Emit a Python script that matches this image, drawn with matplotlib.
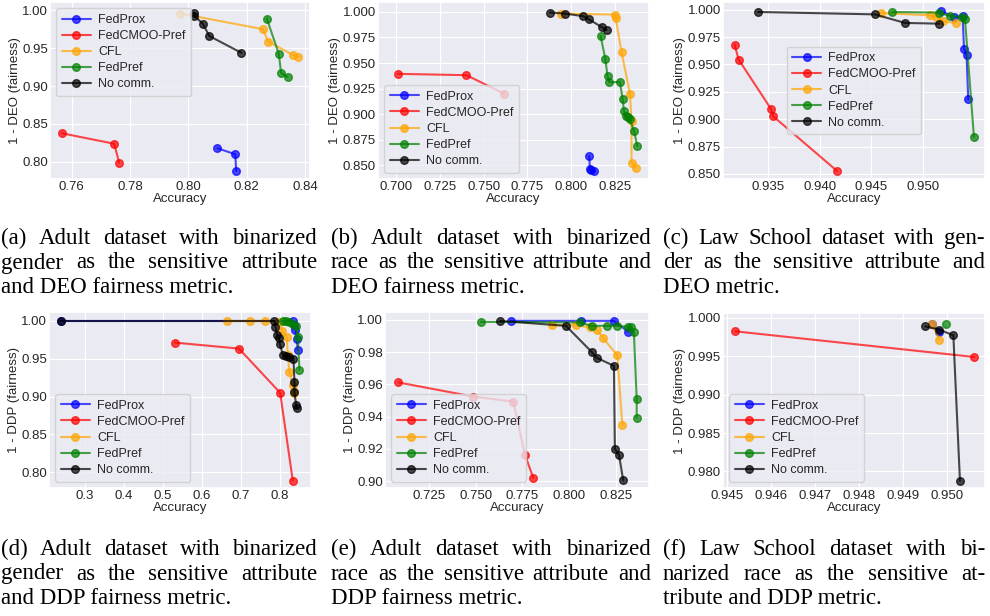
import matplotlib
matplotlib.use("Agg")
import matplotlib.pyplot as plt
import seaborn as sns

sns.set_theme(style="darkgrid")
plt.rcParams["font.family"] = ["Liberation Sans", "DejaVu Sans"]

methods = ["FedProx", "FedCMOO-Pref", "CFL", "FedPref", "No comm."]
colors = ["blue", "red", "orange", "green", "black"]

# (a) Adult, gender, DEO
a_fedprox = ([0.810, 0.8161, 0.8164], [0.818, 0.810, 0.788])
a_cmoo = ([0.7566, 0.7746, 0.7763], [0.8378, 0.8239, 0.799])
a_cfl = ([0.7973, 0.8255, 0.8274, 0.8358, 0.8377], [0.9957, 0.9752, 0.9587, 0.9413, 0.9387])
a_fedpref = ([0.8269, 0.8310, 0.8318, 0.834], [0.9891, 0.9426, 0.9174, 0.9117])
a_nocomm = ([0.8019, 0.8021, 0.8050, 0.8072, 0.8182], [0.997, 0.9926, 0.9822, 0.9661, 0.9439])

# (b) Adult, race, DEO
b_fedprox = ([0.8103, 0.8107, 0.8116, 0.8132], [0.859, 0.8465, 0.845, 0.8442])
b_cmoo = ([0.7008, 0.7401, 0.7616], [0.9394, 0.9381, 0.920])
b_cfl = ([0.7941, 0.825, 0.8254, 0.8288, 0.8336, 0.8345, 0.8345, 0.837],
         [0.9984, 0.9974, 0.9945, 0.9606, 0.920, 0.8929, 0.8523, 0.8477])
b_fedpref = ([0.8168, 0.8195, 0.8208, 0.8218, 0.8279, 0.8294, 0.8302, 0.8311, 0.8323, 0.8336, 0.8359, 0.8378],
             [0.9765, 0.9542, 0.9371, 0.9313, 0.9313, 0.9145, 0.9032, 0.898, 0.8968, 0.8948, 0.8839, 0.8687])
b_nocomm = ([0.7878, 0.7964, 0.8069, 0.8103, 0.8174, 0.8202], [0.9994, 0.9984, 0.9958, 0.9926, 0.9852, 0.9823])

# (c) Law School, gender, DEO
c_fedprox = ([0.95171, 0.95297, 0.95381, 0.95394, 0.95419, 0.95435], [0.9988, 0.9933, 0.9939, 0.9645, 0.9584, 0.918])
c_cmoo = ([0.93177, 0.93216, 0.93532, 0.93548, 0.94168], [0.9681, 0.9545, 0.9089, 0.9028, 0.8527])
c_cfl = ([0.9459, 0.95065, 0.95123, 0.95194, 0.95313], [0.997, 0.9948, 0.9933, 0.9894, 0.9879])
c_fedpref = ([0.9470, 0.95155, 0.95258, 0.95371, 0.95403, 0.9549], [0.9979, 0.9973, 0.9942, 0.9933, 0.9918, 0.884])
c_nocomm = ([0.93403, 0.94532, 0.94823, 0.95155], [0.9979, 0.9957, 0.9879, 0.9872])

# (d) Adult, gender, DDP
d_fedprox = ([0.2378, 0.8324, 0.8366, 0.8392, 0.8426, 0.8451], [1.0, 1.0, 0.9952, 0.9877, 0.9767, 0.9613])
d_cmoo = ([0.53, 0.6944, 0.80, 0.8324], [0.9714, 0.9635, 0.905, 0.7886])
d_cfl = ([0.6646, 0.7216, 0.76, 0.7966, 0.8051, 0.817, 0.8196, 0.8239, 0.8324, 0.8366],
         [1.0, 1.0, 1.0, 0.9987, 0.9864, 0.9789, 0.9547, 0.9327, 0.9152, 0.9042])
d_fedpref = ([0.8068, 0.8153, 0.8239, 0.8324, 0.8409, 0.8451, 0.8494], [1.0, 1.0, 0.9987, 0.9965, 0.9934, 0.9789, 0.9358])
d_nocomm = ([0.2378, 0.7855, 0.788, 0.7923, 0.7966, 0.7991, 0.8068, 0.8153, 0.8221, 0.8341, 0.8366, 0.8366, 0.8409, 0.8426],
            [1.0, 1.0, 0.9921, 0.981, 0.9776, 0.9701, 0.9547, 0.9538, 0.9525, 0.9503, 0.9196, 0.9055, 0.8888, 0.8853])

# (e) Adult, race, DDP
e_fedprox = ([0.7689, 0.8063, 0.8241, 0.8318], [0.9994, 0.9994, 0.9994, 0.9926])
e_cmoo = ([0.7086, 0.7488, 0.7702, 0.7764, 0.7809], [0.9612, 0.9524, 0.9493, 0.9163, 0.9019])
e_cfl = ([0.7907, 0.8037, 0.8113, 0.8152, 0.8184, 0.8259, 0.8286], [0.9967, 0.9967, 0.9953, 0.9936, 0.9885, 0.9781, 0.9348])
e_fedpref = ([0.7527, 0.8059, 0.8121, 0.8205, 0.8259, 0.8318, 0.833, 0.8348, 0.8363, 0.8363],
             [0.9988, 0.9984, 0.9963, 0.9963, 0.9963, 0.9957, 0.9957, 0.9922, 0.9509, 0.9394])
e_nocomm = ([0.763, 0.7984, 0.8121, 0.8148, 0.8241, 0.8246, 0.8268, 0.8291],
            [0.9994, 0.9963, 0.9802, 0.9765, 0.9715, 0.920, 0.9163, 0.9004])

# (f) Law School, race, DDP
f_fedprox = ([0.94966, 0.94983], [0.99922, 0.99817])
f_cmoo = ([0.94519, 0.95063], [0.99826, 0.99491])
f_cfl = ([0.94966, 0.94983], [0.99922, 0.99717])
f_fedpref = ([0.94998], [0.99922])
f_nocomm = ([0.94951, 0.94983, 0.95015, 0.9503], [0.99891, 0.99848, 0.99774, 0.97878])

captions = [
    ["(a) Adult dataset with binarized", "gender as the sensitive attribute", "and DEO fairness metric."],
    ["(b) Adult dataset with binarized", "race as the sensitive attribute and", "DEO fairness metric."],
    ["(c) Law School dataset with gen-", "der as the sensitive attribute and", "DEO metric."],
    ["(d) Adult dataset with binarized", "gender as the sensitive attribute", "and DDP fairness metric."],
    ["(e) Adult dataset with binarized", "race as the sensitive attribute and", "DDP fairness metric."],
    ["(f) Law School dataset with bi-", "narized race as the sensitive at-", "tribute and DDP metric."],
]

W, H = 990, 616
fig = plt.figure(figsize=(W / 100, H / 100), dpi=100)


def px_axes(l, r, t, b):
    return fig.add_axes([l / W, 1 - b / H, (r - l) / W, (b - t) / H])


panels = [
    dict(box=(50, 310, 2, 179), data=[a_fedprox, a_cmoo, a_cfl, a_fedpref, a_nocomm],
         xlim=(0.7526, 0.8417), ylim=(0.7774, 1.011),
         xt=[0.76, 0.78, 0.80, 0.82, 0.84], yt=[0.80, 0.85, 0.90, 0.95, 1.00],
         xf="%.2f", yf="%.2f", yl="1 - DEO (fairness)", loc="upper left"),
    dict(box=(378, 649, 2, 179), data=[b_fedprox, b_cmoo, b_cfl, b_fedpref, b_nocomm],
         xlim=(0.6895, 0.8445), ylim=(0.8365, 1.0097),
         xt=[0.700, 0.725, 0.750, 0.775, 0.800, 0.825], yt=[0.850, 0.875, 0.900, 0.925, 0.950, 0.975, 1.000],
         xf="%.3f", yf="%.3f", yl="1 - DEO (fairness)", loc="lower left"),
    dict(box=(723, 985, 2, 179), data=[c_fedprox, c_cmoo, c_cfl, c_fedpref, c_nocomm],
         xlim=(0.93065, 0.95597), ylim=(0.8454, 1.007),
         xt=[0.935, 0.940, 0.945, 0.950], yt=[0.850, 0.875, 0.900, 0.925, 0.950, 0.975, 1.000],
         xf="%.3f", yf="%.3f", yl="1 - DEO (fairness)", loc="center"),
    dict(box=(49, 311, 312, 488), data=[d_fedprox, d_cmoo, d_cfl, d_fedpref, d_nocomm],
         xlim=(0.208, 0.879), ylim=(0.779, 1.0119),
         xt=[0.3, 0.4, 0.5, 0.6, 0.7, 0.8], yt=[0.80, 0.85, 0.90, 0.95, 1.00],
         xf="%.1f", yf="%.2f", yl="1 - DDP (fairness)", loc="lower left"),
    dict(box=(385, 649, 312, 488), data=[e_fedprox, e_cmoo, e_cfl, e_fedpref, e_nocomm],
         xlim=(0.7014, 0.8429), ylim=(0.8957, 1.0049),
         xt=[0.725, 0.750, 0.775, 0.800, 0.825], yt=[0.90, 0.92, 0.94, 0.96, 0.98, 1.00],
         xf="%.3f", yf="%.2f", yl="1 - DDP (fairness)", loc="lower left"),
    dict(box=(723, 985, 313, 488), data=[f_fedprox, f_cmoo, f_cfl, f_fedpref, f_nocomm],
         xlim=(0.94491, 0.95087), ylim=(0.97783, 1.00065),
         xt=[0.945, 0.946, 0.947, 0.948, 0.949, 0.950], yt=[0.980, 0.985, 0.990, 0.995, 1.000],
         xf="%.3f", yf="%.3f", yl="1 - DDP (fairness)", loc="lower left"),
]

for p in panels:
    ax = px_axes(*p["box"])
    for (xs, ys), m, c in zip(p["data"], methods, colors):
        ax.plot(xs, ys, marker="o", color=c, alpha=0.7, lw=1.5, ms=5.5, label=m)
    ax.set_xlim(*p["xlim"])
    ax.set_ylim(*p["ylim"])
    ax.set_xticks(p["xt"])
    ax.set_yticks(p["yt"])
    ax.xaxis.set_major_formatter(matplotlib.ticker.FormatStrFormatter(p["xf"]))
    ax.yaxis.set_major_formatter(matplotlib.ticker.FormatStrFormatter(p["yf"]))
    ax.tick_params(labelsize=9.5, pad=1.5, length=0, labelcolor="0.15")
    ax.set_xlabel("Accuracy", fontsize=9.5, labelpad=0, color="0.15")
    ax.set_ylabel(p["yl"], fontsize=9.5, labelpad=1, color="0.15")
    ax.grid(color="white", lw=0.8)
    ax.legend(loc=p["loc"], fontsize=9, labelspacing=0.33, handlelength=2.3,
              borderpad=0.45, handletextpad=0.6, framealpha=0.8)

# justified captions below each panel
renderer = fig.canvas.get_renderer()
cap_cols = [(1, 317), (331, 651), (663, 985)]
cap_base = [244, 555]
line_h = 24.5
cap_font = dict(family="Liberation Serif", fontsize=16.5, color="black")

for k, lines in enumerate(captions):
    x0, x1 = cap_cols[k % 3]
    yb = cap_base[k // 3]
    for i, line in enumerate(lines):
        y = 1 - (yb + i * line_h) / H
        words = line.split()
        if i == len(lines) - 1 or len(words) == 1:
            fig.text(x0 / W, y, line, va="baseline", ha="left", **cap_font)
            continue
        ts = [fig.text(0, y, w, va="baseline", ha="left", **cap_font) for w in words]
        widths = [t.get_window_extent(renderer=renderer).width for t in ts]
        gap = (x1 - x0 - sum(widths)) / (len(words) - 1)
        xp = x0
        for t, wd in zip(ts, widths):
            t.set_x(xp / W)
            xp += wd + gap

fig.savefig("out.png", dpi=100)
